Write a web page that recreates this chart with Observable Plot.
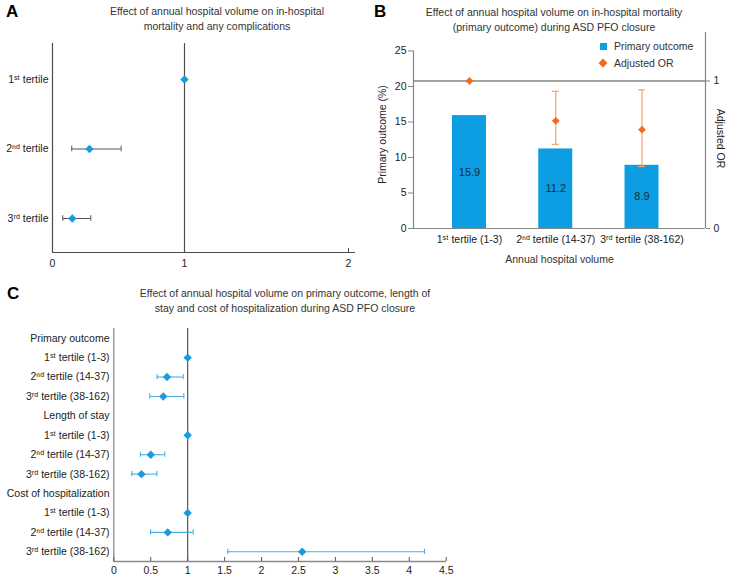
<!DOCTYPE html>
<html>
<head>
<meta charset="utf-8">
<script src="https://cdn.jsdelivr.net/npm/d3@7"></script>
<script src="https://cdn.jsdelivr.net/npm/@observablehq/plot@0.6"></script>
<style>
  body { margin: 0; background: #fff; }
  #page { position: relative; width: 742px; height: 579px; overflow: hidden; font-family: "Liberation Sans", Arial, sans-serif; color: #222; }
  .abs { position: absolute; }
  .letter { font-weight: bold; font-size: 17px; line-height: 16px; color: #000; }
  .title { font-size: 10.5px; line-height: 15px; text-align: center; color: #333; white-space: nowrap; }
  .leg { font-size: 10.5px; line-height: 14px; color: #333; white-space: nowrap; }
  svg { overflow: visible; }
</style>
</head>
<body>
<div id="page">
  <div id="pA" class="abs" style="left:0;top:0"></div>
  <div id="pB" class="abs" style="left:370px;top:0"></div>
  <div id="pC" class="abs" style="left:0;top:310px"></div>

  <div class="abs letter" style="left:6px;top:4px">A</div>
  <div class="abs letter" style="left:374px;top:4px">B</div>
  <div class="abs letter" style="left:7px;top:286px">C</div>

  <div class="abs title" style="left:67px;width:300px;top:3.5px">Effect of annual hospital volume on in-hospital<br>mortality and any complications</div>
  <div class="abs title" style="left:394px;width:320px;top:4.5px">Effect of annual hospital volume on in-hospital mortality<br>(primary outcome) during ASD PFO closure</div>
  <div class="abs title" style="left:85px;width:400px;top:285.5px">Effect of annual hospital volume on primary outcome, length of<br>stay and cost of hospitalization during ASD PFO closure</div>

  <div class="abs" style="left:599.5px;top:42.5px;width:7px;height:7px;background:#0d9de2"></div>
  <div class="abs leg" style="left:614px;top:39px">Primary outcome</div>
  <svg class="abs" style="left:598px;top:58px" width="10" height="10"><path d="M5,0.5L9.5,5L5,9.5L0.5,5Z" fill="#f26a1b"/></svg>
  <div class="abs leg" style="left:614px;top:56px">Adjusted OR</div>
</div>
<script>
// ---------- Data ----------
// Panel A
const labelsA = ["1\u02E2\u1D57 tertile", "2\u207F\u1D48 tertile", "3\u02B3\u1D48 tertile"];
const estA = [1.0, 0.28, 0.15];
const loA  = [null, 0.146, 0.078];
const hiA  = [null, 0.52, 0.29];
const ticksA = [0, 1, 2];

// Panel B
const tertilesB = ["1\u02E2\u1D57 tertile (1-3)", "2\u207F\u1D48 tertile (14-37)", "3\u02B3\u1D48 tertile (38-162)"];
const primaryB = [15.9, 11.2, 8.9];
const orB   = [1.0, 0.73, 0.67];
const orLoB = [null, 0.57, 0.42];
const orHiB = [null, 0.93, 0.94];
const ticksPctB = [0, 5, 10, 15, 20, 25];
const ticksOrB = [0, 1];

// Panel C
const labelsC = [
  "Primary outcome", "1\u02E2\u1D57 tertile (1-3)", "2\u207F\u1D48 tertile (14-37)", "3\u02B3\u1D48 tertile (38-162)",
  "Length of stay", "1\u02E2\u1D57 tertile (1-3)", "2\u207F\u1D48 tertile (14-37)", "3\u02B3\u1D48 tertile (38-162)",
  "Cost of hospitalization", "1\u02E2\u1D57 tertile (1-3)", "2\u207F\u1D48 tertile (14-37)", "3\u02B3\u1D48 tertile (38-162)"
];
const estC = [null, 1.0, 0.72, 0.67, null, 1.0, 0.50, 0.375, null, 1.0, 0.73, 2.55];
const loC  = [null, null, 0.587, 0.487, null, null, 0.361, 0.244, null, null, 0.497, 1.543];
const hiC  = [null, null, 0.94, 0.948, null, null, 0.69, 0.582, null, null, 1.075, 4.206];
const ticksC = [0, 0.5, 1, 1.5, 2, 2.5, 3, 3.5, 4, 4.5];

// ---------- Styling ----------
const FONT = '"Liberation Sans", Arial, sans-serif';
const baseStyle = { fontFamily: FONT, fontSize: "10.5px", color: "#222", background: "transparent", overflow: "visible" };
const BLUE = "#1a9be0", BAR = "#0d9de2", ORANGE = "#f26a1b", ORANGE_LT = "#f5a36c", CI_BLUE = "#47aee0";

// ---------- Panel A ----------
{
  const rows = labelsA.map((l, i) => ({ i, est: estA[i], lo: loA[i], hi: hiA[i] }));
  const ci = rows.filter(d => d.lo != null);
  const yTop = -0.518, yBot = 2.489, pxPerRow = 69.5, cap = 2.8 / pxPerRow;
  const plot = Plot.plot({
    width: 370, height: 275,
    marginLeft: 52, marginRight: 15, marginTop: 43, marginBottom: 23,
    style: baseStyle,
    x: { type: "linear", domain: [0, 1, 2], range: [52, 184, 348] },
    y: { type: "linear", domain: [yTop, yBot], range: [43, 252] },
    marks: [
      Plot.ruleX([0, 1], { stroke: "#4d4d4d", strokeWidth: 1.2 }),
      Plot.ruleY([yBot], { stroke: "#4d4d4d", strokeWidth: 1.2 }),
      Plot.ruleX(ticksA, { x: d => d, y1: yBot, y2: yBot - 4 / pxPerRow, stroke: "#4d4d4d" }),
      Plot.ruleY(ci, { y: "i", x1: "lo", x2: "hi", stroke: "#555" }),
      Plot.ruleX(ci, { x: "lo", y1: d => d.i - cap, y2: d => d.i + cap, stroke: "#555" }),
      Plot.ruleX(ci, { x: "hi", y1: d => d.i - cap, y2: d => d.i + cap, stroke: "#555" }),
      Plot.dot(rows, { x: "est", y: "i", symbol: "diamond2", r: 3.8, fill: BLUE, stroke: "none" }),
      Plot.axisY({ ticks: [0, 1, 2], tickFormat: i => labelsA[i], tickSize: 0, tickPadding: 4, label: null }),
      Plot.axisX({ ticks: ticksA, tickFormat: d => String(d), tickSize: 0, tickPadding: 7, label: null })
    ]
  });
  document.getElementById("pA").append(plot);
}

// ---------- Panel B ----------
{
  const rows = tertilesB.map((l, i) => ({ i, pct: primaryB[i], or: orB[i], lo: orLoB[i], hi: orHiB[i] }));
  const ci = rows.filter(d => d.lo != null);
  const xL = -0.649, xR = 2.736, yTop = 27.6, orK = 20.77, half = 0.197, capW = 0.04;
  const plot = Plot.plot({
    width: 372, height: 275,
    marginLeft: 43, marginRight: 37, marginTop: 32, marginBottom: 47,
    style: baseStyle,
    x: { type: "linear", domain: [xL, xR], range: [43, 335] },
    y: { type: "linear", domain: [0, yTop], range: [228, 32] },
    marks: [
      Plot.rectY(rows, { x1: d => d.i - half, x2: d => d.i + half, y: "pct", fill: BAR }),
      Plot.text(rows, { x: "i", y: d => d.pct / 2, text: d => d.pct.toFixed(1), fill: "#1b2a3c", fontSize: 11 }),
      Plot.ruleY([orK], { stroke: "#858585", strokeWidth: 1.4 }),
      Plot.ruleY([0], { stroke: "#858585", strokeWidth: 1.2 }),
      Plot.ruleX([xL], { y1: 0, y2: 25, stroke: "#858585", strokeWidth: 1.2 }),
      Plot.ruleX([xR], { stroke: "#858585", strokeWidth: 1.2 }),
      Plot.ruleX(ci, { x: "i", y1: d => d.lo * orK, y2: d => d.hi * orK, stroke: ORANGE_LT, strokeWidth: 1.2 }),
      Plot.ruleY(ci, { y: d => d.lo * orK, x1: d => d.i - capW, x2: d => d.i + capW, stroke: ORANGE_LT, strokeWidth: 1.2 }),
      Plot.ruleY(ci, { y: d => d.hi * orK, x1: d => d.i - capW, x2: d => d.i + capW, stroke: ORANGE_LT, strokeWidth: 1.2 }),
      Plot.dot(rows, { x: "i", y: d => d.or * orK, symbol: "diamond2", r: 3.5, fill: ORANGE, stroke: "none" }),
      Plot.axisY({ anchor: "left", ticks: ticksPctB, tickSize: 5, tickPadding: 2, stroke: "#858585", label: null }),
      Plot.axisY({ anchor: "right", ticks: ticksOrB.map(t => t * orK), tickFormat: d => String(Math.round(d / orK)), tickSize: 4, tickPadding: 4, stroke: "#858585", label: null }),
      Plot.axisX({ ticks: [0, 1, 2], tickFormat: i => tertilesB[i], tickSize: 0, tickPadding: 7, label: null }),
      Plot.text(["Annual hospital volume"], { text: d => d, frameAnchor: "bottom", textAnchor: "middle", lineAnchor: "middle", dy: 31, fill: "#333" }),
      Plot.text(["Primary outcome (%)"], { text: d => d, frameAnchor: "left", textAnchor: "middle", lineAnchor: "middle", rotate: -90, dx: -31, dy: 4, fill: "#222" }),
      Plot.text(["Adjusted OR"], { text: d => d, frameAnchor: "right", textAnchor: "middle", lineAnchor: "middle", rotate: 90, dx: 15, dy: 8, fill: "#222" })
    ]
  });
  document.getElementById("pB").append(plot);
}

// ---------- Panel C ----------
{
  const rows = labelsC.map((l, i) => ({ i, est: estC[i], lo: loC[i], hi: hiC[i] }));
  const pts = rows.filter(d => d.est != null);
  const ci = rows.filter(d => d.lo != null);
  const yTop = -0.5, yBot = 11.5, pxPerRow = 233 / 12, cap = 2.6 / pxPerRow;
  const plot = Plot.plot({
    width: 742, height: 269,
    marginLeft: 113, marginRight: 296, marginTop: 18, marginBottom: 18,
    style: baseStyle,
    x: { type: "linear", domain: [0, 4.5], range: [113.3, 445.7] },
    y: { type: "linear", domain: [yTop, yBot], range: [18, 251] },
    marks: [
      Plot.ruleX([0], { stroke: "#8a8a8a", strokeWidth: 1.3 }),
      Plot.ruleX([1], { stroke: "#555", strokeWidth: 1.2 }),
      Plot.ruleY([yBot], { stroke: "#8a8a8a", strokeWidth: 1.6 }),
      Plot.ruleX(ticksC, { x: d => d, y1: yBot, y2: yBot - 4 / pxPerRow, stroke: "#555" }),
      Plot.ruleY(ci, { y: "i", x1: "lo", x2: "hi", stroke: CI_BLUE, strokeWidth: 1.1 }),
      Plot.ruleX(ci, { x: "lo", y1: d => d.i - cap, y2: d => d.i + cap, stroke: CI_BLUE, strokeWidth: 1.1 }),
      Plot.ruleX(ci, { x: "hi", y1: d => d.i - cap, y2: d => d.i + cap, stroke: CI_BLUE, strokeWidth: 1.1 }),
      Plot.dot(pts, { x: "est", y: "i", symbol: "diamond2", r: 3.8, fill: BLUE, stroke: "none" }),
      Plot.axisY({ ticks: d3.range(labelsC.length), tickFormat: i => labelsC[i], tickSize: 0, tickPadding: 4, label: null }),
      Plot.axisX({ ticks: ticksC, tickFormat: d => String(d), tickSize: 0, tickPadding: 5, label: null })
    ]
  });
  document.getElementById("pC").append(plot);
}
</script>
</body>
</html>
